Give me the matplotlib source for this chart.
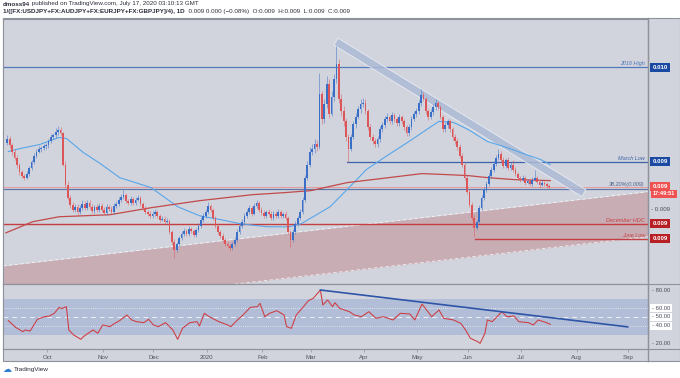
import numpy as np
import matplotlib.pyplot as plt
import matplotlib.transforms as mtransforms
from matplotlib.patches import Rectangle, Polygon
from matplotlib.lines import Line2D

plt.rcParams['font.family'] = ['Liberation Sans', 'DejaVu Sans']

# daily closes / highs / lows, price in units of 1e-6 (9560 -> 0.009560)
sep_c = [9560, 9524, 9488, 9452, 9410, 9368, 9344, 9332, 9356, 9392, 9428, 9464, 9488, 9500, 9506, 9518]
sep_h = [9585, 9578, 9540, 9500, 9466, 9420, 9380, 9356, 9370, 9404, 9440, 9478, 9500, 9520, 9522, 9534]
sep_l = [9528, 9510, 9470, 9436, 9392, 9350, 9330, 9316, 9322, 9344, 9380, 9414, 9450, 9478, 9488, 9494]
oct_c = [9524, 9548, 9572, 9584, 9602, 9614, 9596, 9410, 9290, 9212, 9170, 9140, 9158, 9128, 9152, 9176, 9152, 9182, 9158, 9134, 9158, 9140, 9164]
oct_h = [9540, 9560, 9590, 9600, 9630, 9640, 9632, 9606, 9430, 9310, 9230, 9186, 9176, 9172, 9166, 9196, 9190, 9196, 9196, 9172, 9170, 9172, 9178]
oct_l = [9500, 9510, 9536, 9560, 9570, 9588, 9584, 9400, 9270, 9196, 9150, 9124, 9126, 9110, 9116, 9140, 9136, 9140, 9146, 9118, 9120, 9126, 9128]
nov_c = [9140, 9122, 9158, 9146, 9128, 9164, 9176, 9200, 9218, 9230, 9194, 9182, 9206, 9182, 9200, 9212, 9176, 9152, 9128, 9116, 9104]
nov_h = [9178, 9156, 9172, 9170, 9160, 9178, 9190, 9216, 9234, 9256, 9240, 9206, 9220, 9216, 9214, 9226, 9222, 9188, 9164, 9140, 9130]
nov_l = [9126, 9108, 9110, 9132, 9114, 9116, 9152, 9164, 9186, 9204, 9180, 9168, 9170, 9168, 9170, 9190, 9162, 9138, 9114, 9100, 9088]
dec_c = [9116, 9128, 9104, 9080, 9086, 9068, 9074, 9008, 8948, 8900, 8936, 8972, 8996, 9014, 8996, 9026, 9014, 8990, 9020, 9044, 9080, 9104]
dec_h = [9132, 9142, 9140, 9116, 9100, 9100, 9090, 9086, 9020, 8962, 8950, 8984, 9010, 9028, 9026, 9040, 9036, 9024, 9032, 9058, 9094, 9122]
dec_l = [9090, 9104, 9092, 9066, 9070, 9052, 9058, 8994, 8930, 8852, 8888, 8924, 8960, 8984, 8982, 8984, 9000, 8976, 8978, 9006, 9032, 9066]
jan_c = [9128, 9164, 9140, 9092, 9044, 9008, 8984, 8960, 8936, 8924, 8912, 8936, 8960, 9008, 9044, 9068, 9104, 9128, 9152, 9116, 9164, 9182, 9140]
jan_h = [9142, 9188, 9176, 9150, 9104, 9058, 9020, 8998, 8972, 8950, 8938, 8950, 8974, 9022, 9058, 9082, 9118, 9142, 9170, 9164, 9178, 9196, 9194]
jan_l = [9092, 9116, 9128, 9080, 9030, 8994, 8970, 8946, 8924, 8912, 8896, 8900, 8924, 8948, 8996, 9030, 9056, 9092, 9116, 9102, 9106, 9150, 9126]
feb_c = [9122, 9104, 9128, 9116, 9092, 9116, 9104, 9128, 9104, 9116, 9092, 9008, 8960, 9008, 9056, 9092, 9128, 9200, 9332, 9410]
feb_h = [9154, 9136, 9140, 9142, 9130, 9130, 9130, 9142, 9140, 9128, 9130, 9104, 9020, 9022, 9070, 9104, 9142, 9216, 9350, 9430]
feb_l = [9108, 9090, 9092, 9104, 9078, 9080, 9092, 9090, 9092, 9090, 9080, 8996, 8918, 8948, 8994, 9042, 9080, 9116, 9186, 9318]
mar_c = [9488, 9500, 9530, 9512, 9830, 9680, 9770, 9890, 9710, 9812, 9920, 10010, 9800, 9728, 9668, 9572, 9500, 9572, 9650, 9692, 9740, 9770]
mar_h = [9512, 9530, 9560, 9556, 9960, 9850, 9800, 9940, 9920, 9850, 9950, 10118, 10040, 9830, 9760, 9690, 9590, 9590, 9670, 9716, 9760, 9800]
mar_l = [9396, 9470, 9480, 9490, 9500, 9650, 9660, 9750, 9690, 9700, 9790, 9900, 9780, 9700, 9640, 9550, 9428, 9490, 9560, 9630, 9680, 9720]
apr_c = [9776, 9728, 9632, 9572, 9548, 9530, 9560, 9620, 9644, 9680, 9692, 9668, 9704, 9680, 9656, 9692, 9668, 9632, 9596, 9632, 9680, 9710]
apr_h = [9810, 9800, 9742, 9650, 9590, 9566, 9578, 9640, 9662, 9700, 9720, 9708, 9722, 9716, 9694, 9712, 9706, 9684, 9646, 9650, 9700, 9730]
apr_l = [9752, 9714, 9618, 9556, 9530, 9512, 9516, 9546, 9604, 9630, 9664, 9650, 9654, 9666, 9640, 9640, 9654, 9618, 9580, 9582, 9618, 9668]
may_c = [9728, 9776, 9824, 9800, 9728, 9692, 9722, 9752, 9776, 9752, 9692, 9620, 9644, 9668, 9620, 9572, 9548, 9512, 9464, 9410, 9332]
may_h = [9748, 9794, 9860, 9846, 9816, 9744, 9740, 9770, 9800, 9790, 9768, 9706, 9662, 9684, 9684, 9636, 9590, 9566, 9530, 9480, 9424]
may_l = [9694, 9712, 9762, 9790, 9714, 9676, 9680, 9708, 9738, 9738, 9680, 9606, 9606, 9630, 9606, 9556, 9532, 9496, 9448, 9394, 9318]
jun_c = [9248, 9170, 9092, 9032, 9068, 9152, 9212, 9260, 9296, 9344, 9380, 9416, 9452, 9476, 9440, 9404, 9440, 9392, 9410, 9380, 9356, 9332]
jun_h = [9346, 9262, 9184, 9106, 9080, 9166, 9226, 9276, 9310, 9360, 9396, 9430, 9470, 9500, 9490, 9454, 9450, 9454, 9424, 9440, 9394, 9368]
jun_l = [9234, 9156, 9076, 8978, 9018, 9052, 9138, 9198, 9246, 9282, 9330, 9366, 9402, 9440, 9426, 9390, 9392, 9378, 9380, 9366, 9342, 9318]
jul_c = [9320, 9332, 9302, 9314, 9296, 9320, 9332, 9308, 9290, 9302, 9296, 9284, 9278]
jul_h = [9342, 9346, 9344, 9326, 9326, 9336, 9376, 9344, 9320, 9316, 9312, 9306, 9296]
jul_l = [9306, 9310, 9290, 9296, 9282, 9284, 9310, 9294, 9272, 9280, 9282, 9270, 9266]
first_open = 9540
first_bar = -17  # bar 0 = 1 Oct 2019, weekdays only

# moving averages (bar, price)
ma50_bar = [-16, -11, -3, 5, 8, 15, 22, 30, 43, 54, 63, 72, 80, 91, 100, 105, 110, 117, 124, 132, 140, 149, 157, 162, 168, 174, 182, 190, 198, 204, 208]
ma50_val = [9488, 9506, 9530, 9572, 9566, 9482, 9416, 9332, 9272, 9158, 9104, 9080, 9056, 9038, 9038, 9056, 9098, 9158, 9260, 9380, 9458, 9542, 9620, 9668, 9662, 9620, 9548, 9512, 9470, 9440, 9410]
ma200_bar = [-17, -6, 5, 26, 43, 63, 85, 98, 109, 124, 138, 155, 165, 174, 182, 193, 208]
ma200_val = [9002, 9068, 9098, 9110, 9152, 9194, 9230, 9242, 9254, 9302, 9326, 9356, 9350, 9344, 9332, 9320, 9314]

# RSI(14)
rsi_bar = [-16, -14, -13, -10, -9, -7, -4, -1, 1, 3, 5, 6, 8, 9, 11, 14, 15, 17, 19, 21, 23, 26, 28, 30,
           33, 35, 37, 40, 42, 44, 46, 49, 52, 54, 56, 59, 62, 63, 65, 67, 71, 74, 76, 79, 81, 84, 87, 88,
           90, 92, 95, 98, 99, 101, 103, 106, 108, 110, 113, 114, 116, 118, 119, 121, 125, 127, 130, 133,
           136, 139, 143, 146, 150, 152, 155, 159, 162, 164, 168, 171, 173, 175, 178, 179, 181, 182, 184,
           188, 190, 193, 195, 199, 201, 203, 206, 208]
rsi_val = [46, 41, 38.5, 33.7, 35.6, 34.4, 47.4, 50.4, 51.1, 54.1, 60.7, 59.3, 61.5, 35.6, 30.0, 25.2, 28.1,
           31.9, 35.6, 31.9, 41.1, 39.3, 43.0, 45.9, 52.2, 46.7, 44.8, 43.7, 47.4, 41.1, 39.3, 43.7, 35.6,
           25.2, 37.4, 43.7, 44.8, 40.0, 54.1, 50.4, 44.8, 41.9, 39.3, 47.4, 52.2, 60.7, 61.5, 65.2, 50.4,
           54.1, 57.0, 52.2, 39.3, 37.4, 52.2, 61.5, 68.1, 70.7, 80.0, 63.3, 68.9, 61.5, 65.9, 59.6, 55.9,
           52.2, 50.4, 55.9, 48.5, 50.4, 46.7, 54.1, 53.3, 46.7, 64.4, 50.4, 57.8, 48.5, 46.7, 43.0, 35.6,
           26.3, 22.6, 20.7, 31.9, 46.7, 44.8, 55.9, 50.4, 51.1, 44.8, 43.7, 41.1, 46.7, 44.1, 41.9]
rsi_trend_bar = [113, 240]
rsi_trend_val = [80, 39]

# levels
high_2016 = 9992
march_low = 9428
march_low_from = 124
fib_382 = 9266
dec_hdc = 9056
june_low = 8966
june_low_from = 177
plain_level = 9140

# channels (bar, price)
up_chan_bar = [-18.2, 248.4]
up_chan_top = [8804, 9248]
up_chan_bot = [8536, 8980]
down_band_bar = [120.2, 222.7, 221.1, 118.6]
down_band_val = [10166, 9260, 9218, 10124]

month_bars = [0, 23, 44, 66, 89, 109, 131, 153, 174, 196, 219, 240]
month_labels = ['Oct', 'Nov', 'Dec', '2020', 'Feb', 'Mar', 'Apr', 'May', 'Jun', 'Jul', 'Aug', 'Sep']

closes = np.array(sep_c + oct_c + nov_c + dec_c + jan_c + feb_c + mar_c + apr_c + may_c + jun_c + jul_c)
highs = np.array(sep_h + oct_h + nov_h + dec_h + jan_h + feb_h + mar_h + apr_h + may_h + jun_h + jul_h)
lows = np.array(sep_l + oct_l + nov_l + dec_l + jan_l + feb_l + mar_l + apr_l + may_l + jun_l + jul_l)
opens = np.concatenate([[first_open], closes[:-1]])
bars = np.arange(first_bar, first_bar + len(closes)) + 0.6

W, H = 680, 378
BG = '#d1d4dc'
EDGE = '#8e929b'
UP = '#3a6fc8'
DOWN = '#dc5659'

fig = plt.figure(figsize=(W / 100, H / 100), dpi=100)
fig.patch.set_facecolor('white')

def fx(px):
    return px / W

def fy(py):
    return 1 - py / H

fig.patches.append(Rectangle((fx(3), fy(361)), fx(677), (361 - 18) / H, transform=fig.transFigure,
                             facecolor=BG, edgecolor=EDGE, lw=0.8, zorder=-5))

ax = fig.add_axes([fx(3), fy(284), fx(645), (284 - 19) / H])
rax = fig.add_axes([fx(3), fy(349), fx(645), (349 - 284) / H])
for a in (ax, rax):
    a.set_facecolor(BG)
    for s in a.spines.values():
        s.set_color(EDGE)
        s.set_linewidth(0.8)
    a.set_xlim(-18.2, 248.4)
ax.set_ylim(8696, 10280)
rax.set_ylim(14.4, 86.7)
ax.set_xticks([])
ax.set_yticks([])
rax.set_yticks([])
rax.set_xticks(month_bars)
rax.set_xticklabels(month_labels, fontsize=4.4, color='#50535e')
rax.tick_params(axis='x', length=2, width=0.5, color='#8e929b', pad=2.5)

# figure separators
for yy in (284, 349):
    fig.add_artist(Line2D([fx(3), 1], [fy(yy), fy(yy)], color=EDGE, lw=0.8))
fig.add_artist(Line2D([fx(648), fx(648)], [fy(18), fy(361)], color=EDGE, lw=1.0))

# rising pink channel
xs = np.array(up_chan_bar)
ax.fill_between(xs, up_chan_bot, up_chan_top, color='#c9adb4', lw=0, zorder=1)
ax.plot(xs, up_chan_top, color='white', lw=0.6, ls=(0, (4, 3)), alpha=0.8, zorder=1.5)
ax.plot(xs, up_chan_bot, color='white', lw=0.6, ls=(0, (4, 3)), alpha=0.8, zorder=1.5)

# horizontal levels
ax.axhline(high_2016, color='#5579bd', lw=0.9, zorder=2)
ax.plot([march_low_from, 248.4], [march_low, march_low], color='#3f63aa', lw=0.9, zorder=2)
ax.axhline(fib_382, color='#5e77a8', lw=0.9, zorder=2)
ax.axhline(closes[-1], color='#e89a9a', lw=0.7, zorder=2)
ax.axhline(dec_hdc, color='#c43f42', lw=1.0, zorder=2)
ax.plot([june_low_from, 248.4], [june_low, june_low], color='#c43f42', lw=1.0, zorder=2)

# descending band
ax.add_patch(Polygon(list(zip(down_band_bar, down_band_val)), closed=True, facecolor='#adbbd6',
                     edgecolor='#e9edf4', lw=0.7, alpha=0.85, zorder=2.5))

# moving averages
ax.plot(ma50_bar, ma50_val, color='#58a6ea', lw=0.8, zorder=3)
ax.plot(ma200_bar, ma200_val, color='#c14a4b', lw=0.9, zorder=3)

# candles
up = closes >= opens
cols = np.where(up, UP, DOWN)
ax.vlines(bars, lows, highs, colors=cols, lw=0.7, alpha=0.5, zorder=4)
body = closes - opens
body = np.where(np.abs(body) < 5, np.where(up, 5, -5), body)
ax.bar(bars, body, bottom=opens, width=0.72, color=cols, lw=0, zorder=5)

# level labels
tr = mtransforms.blended_transform_factory(ax.transAxes, ax.transData)
lab = dict(fontsize=4.0, style='italic', ha='right', va='bottom', zorder=6, transform=tr)
ax.text(0.995, high_2016 + 6, '2016 High', color='#4f74b8', **lab)
ax.text(0.995, march_low + 6, 'March Low', color='#3f63aa', **lab)
ax.text(0.995, fib_382 + 12, '38.20%(0.009)', color='#4a5f8a', **lab)
ax.text(0.995, dec_hdc + 6, 'December HDC', color='#c43f42', **lab)
ax.text(0.995, june_low + 6, 'June Low', color='#c43f42', **lab)

# price axis tags
def tag(y, s, fc, size=4.4):
    ax.text(1.007, y, s, transform=tr, fontsize=size, color='white', va='center', ha='left', clip_on=False,
            fontweight='bold', bbox=dict(boxstyle='square,pad=0.35', fc=fc, ec='none'))

tag(high_2016, '0.010', '#1b4aa3')
tag(march_low, '0.009', '#1b4aa3')
tag(closes[-1], '0.009', '#f05252')
tag(closes[-1] - 44, '17:49:51', '#f05252', size=4.0)
ax.text(1.004, plain_level, '- 0.009', transform=tr, fontsize=4.4, color='#4a4f5a', va='center', ha='left', clip_on=False)
tag(dec_hdc, '0.009', '#b71f24')
tag(june_low, '0.009', '#b71f24')

# RSI panel
rax.axhspan(30, 70, color='#b2bed7', lw=0, zorder=1)
rax.axhline(60, color='#eef0f5', lw=0.6, ls=(0, (1, 1.5)), zorder=2)
rax.axhline(40, color='#eef0f5', lw=0.6, ls=(0, (1, 1.5)), zorder=2)
rax.axhline(50, color='#eef0f5', lw=0.7, ls=(0, (5, 4)), zorder=2)
rax.plot(rsi_bar, rsi_val, color='#cf3a40', lw=0.75, zorder=3)
rax.plot(rsi_trend_bar, rsi_trend_val, color='#2f55a8', lw=1.2, zorder=4)
rtr = mtransforms.blended_transform_factory(rax.transAxes, rax.transData)
for v in (80, 60, 50, 40, 20):
    bb = dict(boxstyle='square,pad=0.25', fc='white', ec='none') if v in (60, 50, 40) else None
    rax.text(1.006, v, '- %.2f' % v, transform=rtr, fontsize=4.2, color='#4a4f5a', va='center', ha='left',
             clip_on=False, bbox=bb)

# header
hs = 4.5
t1 = fig.text(fx(3), fy(1.5), 'dmoss94', fontsize=hs, fontweight='bold', color='#2a2e39', va='top')
ax.annotate(' published on TradingView.com, July 17, 2020 03:10:13 GMT', xy=(1, 0), xycoords=t1,
            va='bottom', fontsize=hs, color='#2a2e39', annotation_clip=False)
t2 = fig.text(fx(3), fy(9.5), '1/([FX:USDJPY+FX:AUDJPY+FX:EURJPY+FX:GBPJPY]/4), 1D', fontsize=hs,
              fontweight='bold', color='#2a2e39', va='top')
ax.annotate('  0.009 0.000 (\u22120.08%)  O:0.009  H:0.009  L:0.009  C:0.009', xy=(1, 0), xycoords=t2,
            va='bottom', fontsize=hs, color='#2a2e39', annotation_clip=False)

# footer logo
fig.text(fx(3), fy(370), '\u2601', fontsize=6.5, color='#2f7fd1', va='center', family='DejaVu Sans')
fig.text(fx(14), fy(370), 'TradingView', fontsize=4.6, color='#2a2e39', va='center')

fig.savefig('out.png', dpi=100)
